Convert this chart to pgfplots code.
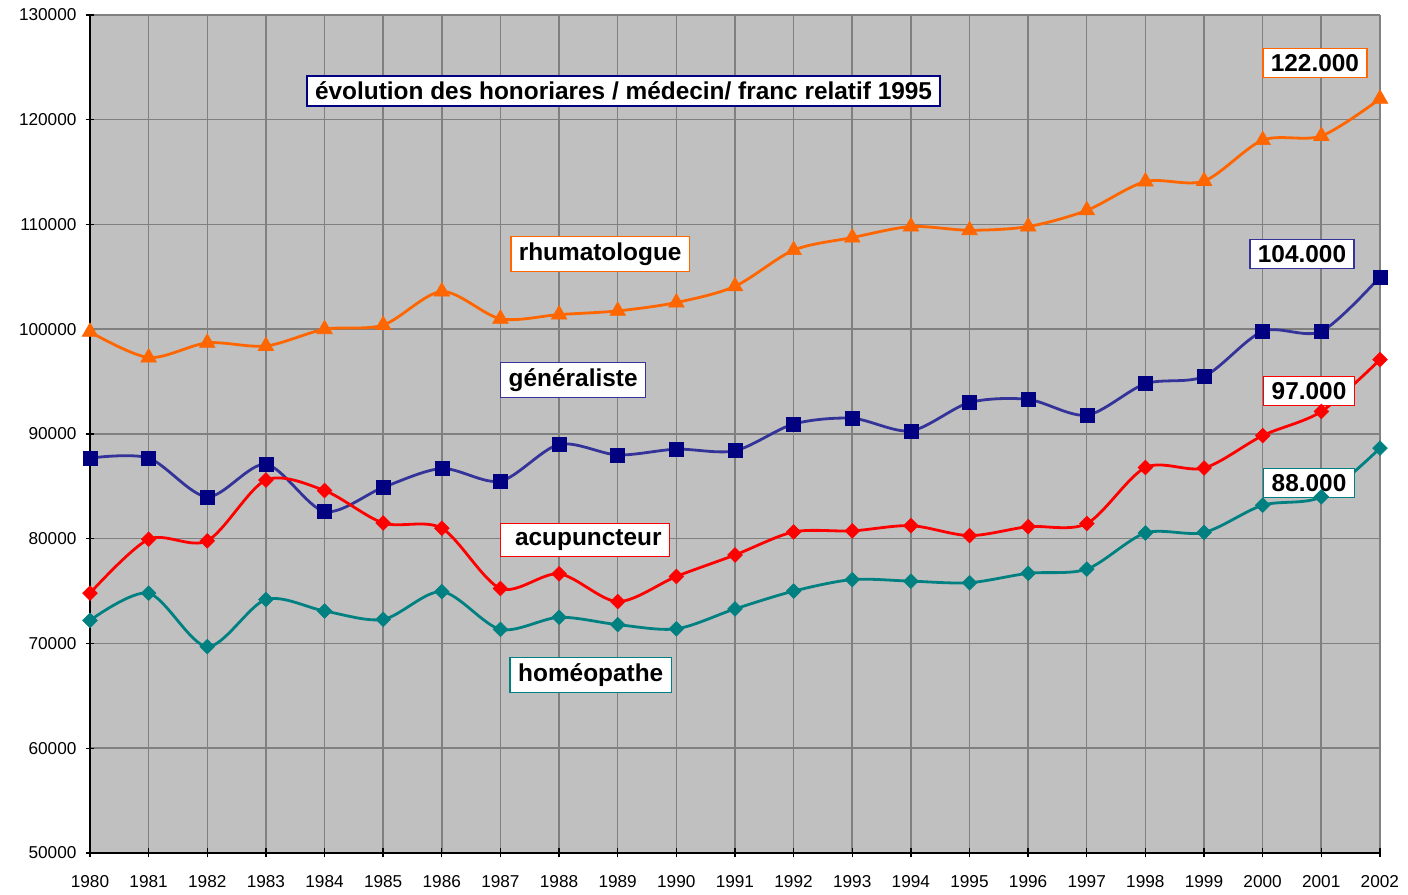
\documentclass[border=0pt]{standalone}
\usepackage{pgfplots}
\pgfplotsset{compat=1.18}
\usepackage{fontspec}
\setmainfont{Liberation Sans}
\definecolor{rhum}{HTML}{FF6600}
\definecolor{gen}{HTML}{333399}
\definecolor{genm}{HTML}{000080}
\definecolor{acu}{HTML}{FF0000}
\definecolor{hom}{HTML}{008080}
\definecolor{bg}{HTML}{C0C0C0}
\definecolor{grd}{HTML}{808080}

\pgfplotstableread{
year rhum gen acu hom
1980 99750 87700 74800 72200
1981 97300 87700 79950 74800
1982 98700 84000 79800 69700
1983 98400 87100 85600 74200
1984 100000 82600 84600 73100
1985 100400 84900 81500 72300
1986 103600 86700 81000 74950
1987 101000 85500 75250 71350
1988 101400 89000 76650 72500
1989 101750 88000 74000 71800
1990 102550 88550 76400 71400
1991 104100 88400 78450 73300
1992 107550 90950 80650 75000
1993 108750 91500 80750 76100
1994 109800 90300 81250 75950
1995 109450 93000 80300 75800
1996 109800 93300 81150 76700
1997 111350 91800 81450 77100
1998 114100 94800 86800 80550
1999 114150 95500 86750 80600
2000 118050 99800 89850 83200
2001 118450 99800 92150 84000
2002 122000 105000 97100 88650
}\datatable

\tikzset{lbl/.style={fill=white, line width=0.75pt, text=black, font=\fontsize{12.2}{14}\selectfont\bfseries, inner xsep=4pt, inner ysep=3pt}}

\begin{document}
\begin{tikzpicture}
\begin{axis}[
  scale only axis, width=645pt, height=419pt,
  xmin=1980, xmax=2002, ymin=50000, ymax=130000,
  xtick={1980,...,2002}, ytick={50000,60000,...,130000},
  scaled y ticks=false, scaled x ticks=false,
  axis x line*=bottom, axis y line*=left,
  axis line style={black, line width=0.7pt, -},
  axis background/.style={fill=bg},
  grid=major, major grid style={grd, line width=0.75pt},
  tick align=center, major tick length=4.5pt,
  tick style={black, line width=0.7pt},
  /pgf/number format/1000 sep={},
  /pgf/number format/fixed,
  /pgf/number format/precision=0,
  /pgf/number format/assume math mode=true,
  ticklabel style={font=\fontsize{8.6}{10}\selectfont},
  xticklabel style={yshift=-5.5pt},
  yticklabel style={xshift=-1pt},
  clip=false,
]
\addplot[rhum, line width=1.4pt, smooth, mark=triangle*, mark size=4.5pt, mark options={fill=rhum, draw=rhum, line width=0.3pt}] table[x=year, y=rhum] {\datatable};
\addplot[gen, line width=1.4pt, smooth, mark=square*, mark size=3.5pt, mark options={fill=genm, draw=genm, line width=0.3pt}] table[x=year, y=gen] {\datatable};
\addplot[acu, line width=1.4pt, smooth, mark=square*, mark size=2.6pt, mark options={fill=acu, draw=acu, rotate=45, line width=0.3pt}] table[x=year, y=acu] {\datatable};
\addplot[hom, line width=1.4pt, smooth, mark=square*, mark size=2.6pt, mark options={fill=hom, draw=hom, rotate=45, line width=0.3pt}] table[x=year, y=hom] {\datatable};

\node[lbl, draw=genm] at (axis cs:1989.1,122740) {évolution des honoriares / médecin/ franc relatif 1995};
\node[lbl, draw=rhum] at (axis cs:1988.70,107180) {rhumatologue};
\node[lbl, draw=gen] at (axis cs:1988.24,95150) {généraliste};
\node[lbl, draw=acu] at (axis cs:1988.44,79880) {\ acupuncteur};
\node[lbl, draw=hom] at (axis cs:1988.54,66990) {homéopathe};
\node[lbl, draw=rhum] at (axis cs:2000.89,125420) {122.000};
\node[lbl, draw=gen] at (axis cs:2000.67,107180) {104.000};
\node[lbl, draw=acu] at (axis cs:2000.79,94100) {97.000};
\node[lbl, draw=hom] at (axis cs:2000.79,85320) {88.000};
\end{axis}
\path ([shift={(-45pt,-21pt)}]current axis.south west) rectangle ([shift={(14pt,7.5pt)}]current axis.north east);
\end{tikzpicture}
\end{document}
